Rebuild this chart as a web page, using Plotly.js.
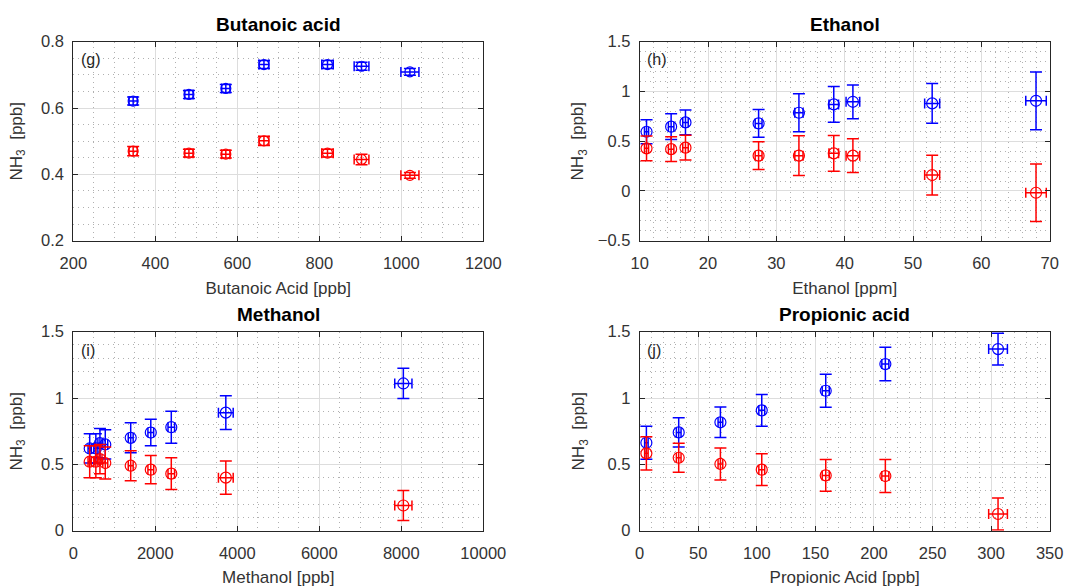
<!DOCTYPE html>
<html>
<head>
<meta charset="utf-8">
<script src="https://cdn.plot.ly/plotly-3.0.1.min.js"></script>
<style>html,body{margin:0;padding:0;background:#fff;}#chart{width:1086px;height:587px;}</style>
</head>
<body>
<div id="chart"></div>
<script>
// ---- (g) Butanoic acid ----
const butX = [346, 482, 572, 665, 820, 903, 1021];
const butXErr = [10, 10, 10, 12, 14, 18, 22];
const butBlue = [0.621, 0.641, 0.659, 0.731, 0.731, 0.726, 0.709];
const butBlueErr = [0.012, 0.012, 0.012, 0.012, 0.012, 0.012, 0.010];
const butRed = [0.470, 0.464, 0.461, 0.501, 0.464, 0.445, 0.397];
const butRedErr = [0.014, 0.012, 0.012, 0.014, 0.012, 0.016, 0.009];

// ---- (h) Ethanol ----
const ethX = [11.0, 14.6, 16.7, 27.4, 33.3, 38.4, 41.2, 52.8, 68.0];
const ethXErr = [0.3, 0.4, 0.4, 0.5, 0.6, 0.7, 1.0, 1.1, 1.5];
const ethBlue = [0.595, 0.646, 0.689, 0.679, 0.786, 0.870, 0.896, 0.880, 0.906];
const ethBlueErr = [0.12, 0.13, 0.125, 0.14, 0.19, 0.18, 0.17, 0.20, 0.29];
const ethRed = [0.428, 0.420, 0.435, 0.355, 0.355, 0.378, 0.355, 0.160, -0.018];
const ethRedErr = [0.124, 0.125, 0.125, 0.14, 0.20, 0.18, 0.17, 0.20, 0.29];

// ---- (i) Methanol ----
const metX = [400, 550, 650, 780, 1400, 1890, 2390, 3720, 8050];
const metXErr = [40, 50, 50, 60, 60, 70, 80, 180, 210];
const metBlue = [0.62, 0.62, 0.66, 0.65, 0.70, 0.74, 0.78, 0.89, 1.11];
const metBlueErr = [0.11, 0.11, 0.11, 0.11, 0.113, 0.10, 0.12, 0.128, 0.114];
const metRed = [0.52, 0.52, 0.54, 0.51, 0.49, 0.46, 0.43, 0.40, 0.19];
const metRedErr = [0.12, 0.12, 0.11, 0.12, 0.113, 0.107, 0.12, 0.126, 0.113];

// ---- (j) Propionic acid ----
const proX = [5.7, 33.3, 68.9, 104.2, 158.8, 209.7, 305.9];
const proXErr = [1.5, 2, 2, 2.5, 3, 3, 8];
const proBlue = [0.663, 0.741, 0.817, 0.907, 1.055, 1.256, 1.369];
const proBlueErr = [0.125, 0.11, 0.115, 0.12, 0.124, 0.126, 0.12];
const proRed = [0.583, 0.550, 0.503, 0.460, 0.417, 0.412, 0.126];
const proRedErr = [0.125, 0.11, 0.12, 0.12, 0.12, 0.125, 0.12];

const BLUE = '#0000ff', RED = '#ff0000';

function series(x, xe, y, ye, color, xa, ya, msize) {
  return {
    x: x, y: y, type: 'scatter', mode: 'markers', xaxis: xa, yaxis: ya,
    showlegend: false, hoverinfo: 'x+y',
    marker: {symbol: 'circle-open', size: msize, color: color, line: {width: 1.2, color: color}},
    error_x: {type: 'data', array: xe, visible: true, color: color, thickness: 1.5, width: 5},
    error_y: {type: 'data', array: ye, visible: true, color: color, thickness: 1.5, width: 6}
  };
}

const data = [
  series(butX, butXErr, butBlue, butBlueErr, BLUE, 'x', 'y', 10),
  series(butX, butXErr, butRed, butRedErr, RED, 'x', 'y', 10),
  series(ethX, ethXErr, ethBlue, ethBlueErr, BLUE, 'x2', 'y2', 11),
  series(ethX, ethXErr, ethRed, ethRedErr, RED, 'x2', 'y2', 11),
  series(metX, metXErr, metBlue, metBlueErr, BLUE, 'x3', 'y3', 11),
  series(metX, metXErr, metRed, metRedErr, RED, 'x3', 'y3', 11),
  series(proX, proXErr, proBlue, proBlueErr, BLUE, 'x4', 'y4', 11),
  series(proX, proXErr, proRed, proRedErr, RED, 'x4', 'y4', 11)
];

const W = 1086, H = 587;
const FONT = 'Liberation Sans, Arial, Helvetica, sans-serif';
const TXT = '#262626';

function axis(domain, range, dtick, minorDtick, anchor, title, standoff, isY) {
  return {
    domain: domain, range: range, dtick: dtick, tick0: 0, anchor: anchor,
    showline: true, linecolor: '#262626', linewidth: 1, mirror: 'ticks',
    ticks: 'inside', ticklen: 5, tickcolor: '#262626', tickwidth: 1,
    showgrid: true, gridcolor: '#dddddd', gridwidth: 1, zeroline: false,
    minor: {dtick: minorDtick, showgrid: true, gridcolor: '#b0b0b0', griddash: '1px,4px', gridwidth: 1, ticks: ''},
    tickfont: {family: FONT, size: 16.5, color: '#333333'},
    ticklabelstandoff: isY ? 5 : 7,
    exponentformat: 'none', separatethousands: false,
    title: {text: title, font: {family: FONT, size: 17, color: '#333333'}, standoff: standoff},
    automargin: false, fixedrange: true
  };
}

const xdL = [73.3 / W, 483.3 / W], xdR = [639.7 / W, 1049.7 / W];
const ydT = [1 - 240.7 / H, 1 - 41.7 / H], ydB = [1 - 530.7 / H, 1 - 331.7 / H];
const Y3 = 'NH<sub>3</sub>  [ppb]';

function title(text, xd, yPx) {
  return {text: '<b>' + text + '</b>', xref: 'paper', yref: 'paper', x: (xd[0] + xd[1]) / 2, y: 1 - yPx / H,
    xanchor: 'center', yanchor: 'middle', showarrow: false, font: {family: FONT, size: 19, color: '#000'}};
}
function tag(text, xPx, yPx) {
  return {text: text, xref: 'paper', yref: 'paper', x: xPx / W, y: 1 - yPx / H,
    xanchor: 'left', yanchor: 'middle', showarrow: false, font: {family: FONT, size: 16, color: TXT}};
}

const layout = {
  width: W, height: H, margin: {l: 0, r: 0, t: 0, b: 0},
  paper_bgcolor: '#ffffff', plot_bgcolor: '#ffffff',
  font: {family: FONT, color: TXT},
  xaxis: axis(xdL, [200, 1200], 200, 50, 'y', 'Butanoic Acid [ppb]', 11, false),
  yaxis: Object.assign(axis(ydT, [0.2, 0.8], 0.2, 0.05, 'x', Y3, 14, true), {tickformat: '.1f'}),
  xaxis2: axis(xdR, [10, 70], 10, 2, 'y2', 'Ethanol [ppm]', 11, false),
  yaxis2: axis(ydT, [-0.5, 1.5], 0.5, 0.1, 'x2', Y3, 9, true),
  xaxis3: Object.assign(axis(xdL, [0, 10000], 2000, 500, 'y3', 'Methanol [ppb]', 12, false), {tickformat: 'd'}),
  yaxis3: axis(ydB, [0, 1.5], 0.5, 0.1, 'x3', Y3, 14, true),
  xaxis4: axis(xdR, [0, 350], 50, 10, 'y4', 'Propionic Acid [ppb]', 12, false),
  yaxis4: axis(ydB, [0, 1.5], 0.5, 0.1, 'x4', Y3, 18, true),
  annotations: [
    title('Butanoic acid', xdL, 24),
    title('Ethanol', xdR, 24),
    title('Methanol', xdL, 314),
    title('Propionic acid', xdR, 314),
    tag('(g)', 79, 60),
    tag('(h)', 645, 60),
    tag('(i)', 79, 350),
    tag('(j)', 645, 350)
  ]
};

Plotly.newPlot('chart', data, layout, {staticPlot: true, displayModeBar: false});
</script>
</body>
</html>
